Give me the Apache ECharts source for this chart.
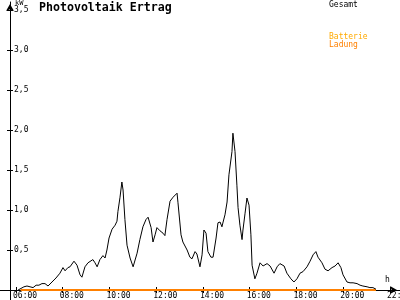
<!DOCTYPE html>
<html>
<head>
<meta charset="utf-8">
<script src="https://cdn.jsdelivr.net/npm/echarts@6/dist/echarts.min.js"></script>
<style>html,body{margin:0;padding:0;background:#fff}#c{width:400px;height:300px}</style>
</head>
<body>
<div id="c"></div>
<script>
var hours = [
  6.09,6.17,6.34,6.47,6.60,6.73,6.86,6.98,7.11,7.24,
  7.37,7.54,7.71,7.88,8.01,8.10,8.22,8.31,8.48,8.61,
  8.74,8.82,8.95,9.08,9.29,9.38,9.47,9.59,9.72,9.81,
  9.89,9.98,10.11,10.24,10.32,10.36,10.45,10.53,10.58,10.66,
  10.75,10.88,11.01,11.18,11.30,11.43,11.56,11.65,11.78,11.86,
  11.95,12.03,12.16,12.29,12.37,12.46,12.59,12.72,12.80,12.89,
  12.93,13.06,13.14,13.32,13.44,13.53,13.66,13.74,13.87,13.96,
  14.04,14.13,14.21,14.34,14.43,14.56,14.64,14.73,14.81,14.86,
  14.94,15.03,15.11,15.24,15.28,15.37,15.45,15.50,15.58,15.67,
  15.71,15.80,15.88,15.97,16.05,16.10,16.22,16.31,16.44,16.57,
  16.74,16.87,17.04,17.17,17.29,17.47,17.59,17.76,17.89,18.02,
  18.15,18.28,18.45,18.58,18.71,18.83,18.92,19.09,19.22,19.35,
  19.52,19.65,19.78,19.90,19.99,20.16,20.29,20.42,20.59,20.72,
  20.84,21.02,21.14,21.27,21.40
];
var gesamt = [
  0.00,0.01,0.04,0.05,0.04,0.03,0.06,0.06,0.08,0.08,
  0.05,0.10,0.15,0.21,0.28,0.24,0.28,0.29,0.36,0.31,
  0.19,0.16,0.29,0.34,0.38,0.34,0.29,0.38,0.43,0.40,
  0.50,0.65,0.76,0.81,0.86,0.98,1.16,1.35,1.25,0.88,
  0.56,0.40,0.29,0.46,0.63,0.79,0.88,0.91,0.78,0.60,
  0.69,0.78,0.74,0.71,0.68,0.88,1.11,1.16,1.18,1.21,
  1.09,0.69,0.60,0.50,0.41,0.39,0.48,0.45,0.29,0.44,
  0.75,0.71,0.48,0.41,0.41,0.65,0.84,0.85,0.79,0.85,
  0.94,1.10,1.44,1.73,1.96,1.73,1.31,1.03,0.81,0.63,
  0.75,0.96,1.15,1.06,0.69,0.31,0.14,0.21,0.34,0.30,
  0.33,0.30,0.21,0.29,0.33,0.30,0.21,0.14,0.10,0.14,
  0.21,0.23,0.29,0.36,0.44,0.48,0.41,0.34,0.26,0.24,
  0.28,0.30,0.34,0.28,0.19,0.10,0.09,0.09,0.08,0.06,
  0.05,0.04,0.03,0.03,0.01
];
var ladungHours = [6.20, 21.40];
var ladung = [0, 0];
var batterie = [];
var xTicks = [6, 8, 10, 12, 14, 16, 18, 20, 22];
var yTicks = [0.5, 1.0, 1.5, 2.0, 2.5, 3.0, 3.5];
var seriesNames = ['Gesamt', 'Batterie', 'Ladung'];
var titleText = 'Photovoltaik Ertrag';

var MONO = '"DejaVu Sans Mono", "Liberation Mono", monospace';
function zip(a, b) { return a.map(function (v, i) { return [v, b[i]]; }); }
function pad2(n) { return (n < 10 ? '0' : '') + n; }

var X_MIN = 5.3155, X_MAX = 22.428, Y_MIN = 0, Y_MAX = 3.6;

var chart = echarts.init(document.getElementById('c'), null, {renderer: 'canvas'});
chart.setOption({
  animation: false,
  backgroundColor: '#ffffff',
  title: {
    text: titleText, left: 39, top: 2, padding: 0,
    textStyle: {fontFamily: MONO, fontSize: 11.6, fontWeight: 'bold', color: '#000'}
  },
  legend: [
    {data: [seriesNames[0]], left: 324, top: 1, padding: 0, icon: 'none', itemWidth: 0, itemHeight: 8,
     selectedMode: false, textStyle: {fontFamily: MONO, fontSize: 8, color: '#000', lineHeight: 8}},
    {data: [{name: seriesNames[1], textStyle: {color: '#FFAA00'}}, {name: seriesNames[2], textStyle: {color: '#FF8000'}}],
     orient: 'vertical', left: 324, top: 33, padding: 0, itemGap: 0, icon: 'none', itemWidth: 0, itemHeight: 8,
     selectedMode: false, textStyle: {fontFamily: MONO, fontSize: 8, lineHeight: 8}}
  ],
  grid: {left: 0, right: 0, top: 2, bottom: 10, containLabel: false, outerBoundsMode: 'none'},
  xAxis: [
    {type: 'value', min: X_MIN, max: X_MAX, position: 'bottom',
     axisLine: {show: true, onZero: false, symbol: ['none', 'arrow'], symbolSize: [6, 7], symbolOffset: [0, -3],
                lineStyle: {color: '#000', width: 1}},
     axisTick: {show: true, customValues: xTicks, length: 3, lineStyle: {color: '#000'}},
     axisLabel: {show: true, customValues: xTicks, align: 'left', margin: 2, fontFamily: MONO, fontSize: 8,
                 lineHeight: 8, color: '#000', hideOverlap: false, showMinLabel: true, showMaxLabel: true,
                 padding: [0, 0, 0, -3],
                 formatter: function (v) { return pad2(Math.round(v)) + ':00'; }},
     splitLine: {show: false}},
    {type: 'value', min: X_MIN, max: X_MAX, position: 'bottom',
     axisLine: {show: true, onZero: false, lineStyle: {color: '#000', opacity: 0}},
     axisTick: {show: true, inside: true, customValues: xTicks, length: 3, lineStyle: {color: '#000'}},
     axisLabel: {show: false}, splitLine: {show: false}}
  ],
  yAxis: [
    {type: 'value', min: Y_MIN, max: Y_MAX, position: 'left', offset: -10,
     axisLine: {show: true, onZero: false, symbol: ['none', 'arrow'], symbolSize: [6, 7], symbolOffset: [0, -2],
                lineStyle: {color: '#000', width: 1}},
     axisTick: {show: true, customValues: yTicks, length: 3, lineStyle: {color: '#000'}},
     axisLabel: {show: true, inside: true, customValues: yTicks, margin: 4, fontFamily: MONO, fontSize: 8, color: '#000',
                 formatter: function (v) { return v.toFixed(1).replace('.', ','); }},
     splitLine: {show: false}},
    {type: 'value', min: Y_MIN, max: Y_MAX, position: 'left', offset: -10,
     axisLine: {show: true, onZero: false, lineStyle: {color: '#000', opacity: 0}},
     axisTick: {show: true, inside: true, customValues: yTicks, length: 3, lineStyle: {color: '#000'}},
     axisLabel: {show: false}, splitLine: {show: false}}
  ],
  graphic: [
    {type: 'line', shape: {x1: 10.5, y1: 290, x2: 10.5, y2: 300}, style: {stroke: '#000', lineWidth: 1}},
    {type: 'text', left: 15, top: 0, style: {text: 'kW', fontFamily: MONO, fontSize: 7, fill: '#000'}},
    {type: 'text', left: 385, top: 276, style: {text: 'h', fontFamily: MONO, fontSize: 8, fill: '#000'}}
  ],
  series: [
    {name: seriesNames[1], type: 'line', data: zip([], batterie), showSymbol: false, color: '#FFAA00',
     lineStyle: {color: '#FFAA00', width: 2}},
    {name: seriesNames[2], type: 'line', data: zip(ladungHours, ladung), showSymbol: false, color: '#FF8000',
     lineStyle: {color: '#FF8000', width: 2}},
    {name: seriesNames[0], type: 'line', data: zip(hours, gesamt), showSymbol: false, color: '#000',
     lineStyle: {color: '#000', width: 1}}
  ]
});
</script>
</body>
</html>
